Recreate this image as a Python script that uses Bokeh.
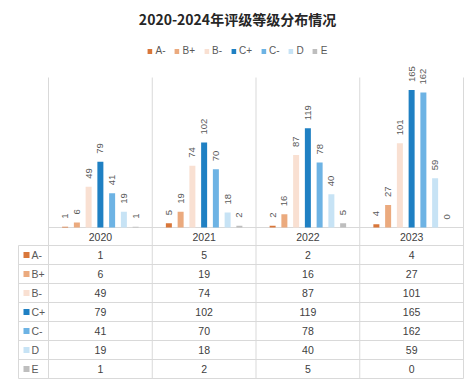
import math
from bokeh.plotting import figure
from bokeh.models import Range1d, Label, Legend, LegendItem, ColumnDataSource
from bokeh.core.properties import value
from bokeh.embed import file_html
from bokeh.resources import INLINE

# ---------------- data ----------------
title_text = "2020-2024年评级等级分布情况"
years = ["2020", "2021", "2022", "2023"]
grades = ["A-", "B+", "B-", "C+", "C-", "D", "E"]
colors = ["#D9773A", "#EBAA7E", "#F9E0D2", "#1F80C3", "#6DB3E4", "#C7E3F5", "#BEBEBE"]
vals_A = [1, 5, 2, 4]
vals_Bp = [6, 19, 16, 27]
vals_B = [49, 74, 87, 101]
vals_Cp = [79, 102, 119, 165]
vals_C = [41, 70, 78, 162]
vals_D = [19, 18, 40, 59]
vals_E = [1, 2, 5, 0]
series = [vals_A, vals_Bp, vals_B, vals_Cp, vals_C, vals_D, vals_E]
y_max = 180

# ---------------- layout ----------------
W, H = 474, 385
X0, XPX = 48.0, 103.75          # px of category 0 edge, px per category
BASE = 227.0                     # px of value 0
PPU = 150.0 / y_max              # px per value unit
ROW0, ROWH = 245.0, 19.0         # table top line px, row height px
TBL_LEFT = 18.0
TOP_PX = 77.0

def vx(px):
    return (px - X0) / XPX

def vy(px):
    return (BASE - px) / PPU

p = figure(width=W, height=H, output_backend="svg", toolbar_location=None,
           x_range=Range1d(vx(0), vx(W)), y_range=Range1d(vy(H), vy(0)),
           x_axis_location=None, y_axis_location=None, min_border=0,
           outline_line_color=None, background_fill_color="white",
           border_fill_color="white")
p.grid.visible = False

GRID = "#D9D9D9"
n_cat = len(years)
nrows = len(grades)

# table / category lines
p.segment(x0=list(range(n_cat + 1)), x1=list(range(n_cat + 1)),
          y0=[vy(TOP_PX)] * (n_cat + 1), y1=[vy(ROW0 + ROWH * nrows)] * (n_cat + 1),
          line_color=GRID, line_width=1)
p.segment(x0=[vx(TBL_LEFT)], x1=[vx(TBL_LEFT)], y0=[vy(ROW0)],
          y1=[vy(ROW0 + ROWH * nrows)], line_color=GRID, line_width=1)
p.segment(x0=[vx(TBL_LEFT)] * (nrows + 1), x1=[n_cat] * (nrows + 1),
          y0=[vy(ROW0 + ROWH * k) for k in range(nrows + 1)],
          y1=[vy(ROW0 + ROWH * k) for k in range(nrows + 1)],
          line_color=GRID, line_width=1)
p.segment(x0=[0], x1=[n_cat], y0=[0], y1=[0], line_color=GRID, line_width=1)

# bars + labels
step = 11.75 / XPX
bw = 6.0 / XPX
items = []
NUMFONT = value("Liberation Sans")
for j, (g, c, vals) in enumerate(zip(grades, colors, series)):
    xs = [i + 0.5 + (j - 3) * step for i in range(n_cat)]
    src = ColumnDataSource(dict(x=xs, top=vals, lab=[str(v) for v in vals]))
    r = p.vbar(x="x", top="top", bottom=0, width=bw, source=src,
               fill_color=c, line_color=None)
    p.text(x="x", y="top", text="lab", source=src, angle=math.pi / 2,
           text_align="left", text_baseline="middle", y_offset=-8,
           text_font=NUMFONT, text_font_size="9.5px", text_color="#595959")
    items.append(LegendItem(label=g, renderers=[r]))

    # table row
    ycen = vy(ROW0 + ROWH * (j + 0.5))
    p.text(x=[i + 0.5 for i in range(n_cat)], y=[ycen] * n_cat,
           text=[str(v) for v in vals], text_align="center", text_baseline="middle",
           text_font=NUMFONT, text_font_size="10.5px", text_color="#404040")
    p.scatter(x=[vx(26)], y=[ycen], marker="square", size=6,
              fill_color=c, line_color=None)
    p.text(x=[vx(31)], y=[ycen], text=[g], text_align="left", text_baseline="middle",
           text_font=NUMFONT, text_font_size="10.5px", text_color="#595959")

# year header labels
p.text(x=[i + 0.5 for i in range(n_cat)], y=[vy(236)] * n_cat, text=years,
       text_align="center", text_baseline="middle", text_font=NUMFONT,
       text_font_size="10.5px", text_color="#404040")

legend = Legend(items=items, orientation="horizontal", location="top_center",
                margin=45, padding=0, spacing=8, label_standoff=3, label_width=0,
                glyph_width=6, glyph_height=6, label_height=10,
                label_text_font="Liberation Sans", label_text_font_size="10px",
                label_text_color="#595959", border_line_color=None,
                background_fill_alpha=0)
p.add_layout(legend)

p.add_layout(Label(x=W / 2, y=H - 18, x_units="screen", y_units="screen",
                   text=title_text, text_align="center", text_baseline="middle",
                   text_font="Noto Sans CJK SC", text_font_style="bold",
                   text_font_size="14px", text_color="#262626"))

open("out.html", "w").write(file_html(p, INLINE))
